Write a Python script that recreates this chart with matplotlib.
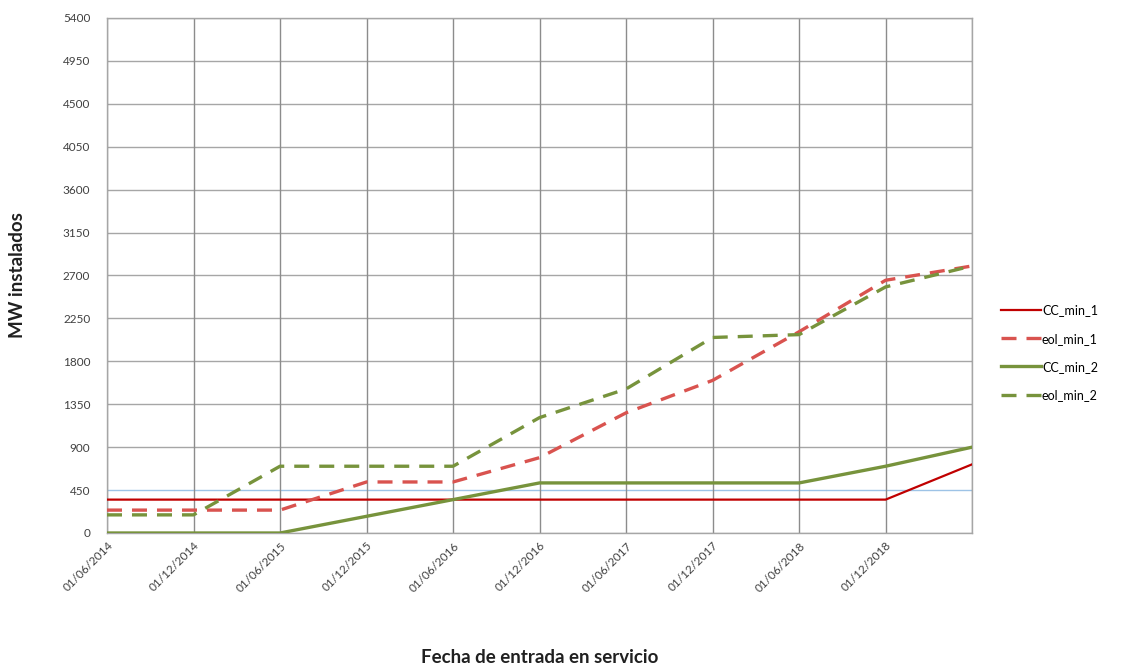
import matplotlib
matplotlib.use("Agg")
import matplotlib.pyplot as plt

plt.rcParams['font.family'] = ['Lato', 'DejaVu Sans']

# fechas (la ultima no lleva etiqueta en el original)
fechas = ['01/06/2014', '01/12/2014', '01/06/2015', '01/12/2015', '01/06/2016',
          '01/12/2016', '01/06/2017', '01/12/2017', '01/06/2018', '01/12/2018', '']

cc_min_1 = [350, 350, 350, 350, 350, 350, 350, 350, 350, 350, 720]
eol_min_1 = [240, 240, 240, 535, 535, 790, 1260, 1600, 2110, 2650, 2800]
cc_min_2 = [0, 0, 0, 175, 350, 525, 525, 525, 525, 700, 900]
eol_min_2 = [190, 190, 700, 700, 700, 1210, 1510, 2050, 2080, 2580, 2800]

yticks = list(range(0, 5401, 450))

x = list(range(len(fechas)))

fig = plt.figure(figsize=(11.25, 6.68), dpi=100)
ax = fig.add_axes([0.0951, 0.2021, 0.769, 0.771])

grid_col = '#A6A6A6'
for yv in yticks:
    ax.axhline(yv, color='#9DC3E6' if yv == 450 else grid_col, lw=1.0, zorder=1)
for xv in x:
    ax.axvline(xv, color='#8C8C8C', lw=1.0, zorder=1)

ax.plot(x, cc_min_1, color='#C00000', lw=1.6, label='CC_min_1', zorder=3)
ax.plot(x, eol_min_1, color='#D9534F', lw=2.4, ls=(0, (4.5, 3)), label='eol_min_1', zorder=3)
ax.plot(x, cc_min_2, color='#77933C', lw=2.4, label='CC_min_2', zorder=3)
ax.plot(x, eol_min_2, color='#77933C', lw=2.4, ls=(0, (4.5, 3)), label='eol_min_2', zorder=3)

ax.set_xlim(0, 10)
ax.set_ylim(0, 5400)
ax.set_yticks(yticks)
ax.set_xticks(x)
ax.set_xticklabels(fechas, rotation=45, ha='right', rotation_mode='anchor', fontsize=8.5)
ax.tick_params(axis='y', labelsize=8.5, length=0, pad=12, colors='#404040')
ax.tick_params(axis='x', length=0, pad=5, colors='#404040')
for s in ax.spines.values():
    s.set_color(grid_col)
    s.set_linewidth(1.0)

fig.text(0.016, 0.588, 'MW instalados', rotation=90, ha='center', va='center',
         fontsize=13.5, fontweight='bold', color='#202020')
fig.text(0.48, 0.015, 'Fecha de entrada en servicio', ha='center', va='center',
         fontsize=13.5, fontweight='bold', color='#202020')

leg = ax.legend(loc='center left', bbox_to_anchor=(1.02, 0.35), frameon=False,
                fontsize=9, handlelength=3.2, handletextpad=0.1, labelspacing=1.3)

fig.savefig('out.png', dpi=100)
